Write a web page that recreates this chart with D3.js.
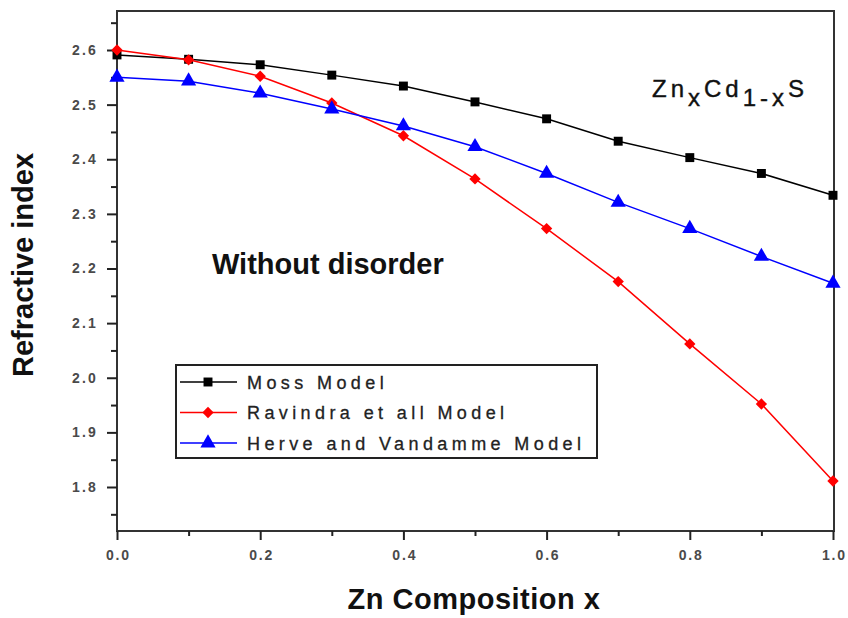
<!DOCTYPE html>
<html><head><meta charset="utf-8">
<script src="https://cdn.jsdelivr.net/npm/d3@7"></script>
<style>body{margin:0;background:#fff;}svg{display:block;}</style>
</head><body>
<svg id="chart" width="848" height="618"></svg>
<script>
const xValues = [0, 0.1, 0.2, 0.3, 0.4, 0.5, 0.6, 0.7, 0.8, 0.9, 1.0];
const mossValues = [2.591, 2.583, 2.573, 2.554, 2.534, 2.505, 2.474, 2.433, 2.403, 2.374, 2.334];
const ravindraValues = [2.600, 2.582, 2.552, 2.503, 2.443, 2.364, 2.273, 2.176, 2.062, 1.952, 1.811];
const herveValues = [2.550, 2.543, 2.521, 2.492, 2.461, 2.423, 2.374, 2.321, 2.273, 2.222, 2.173];
const seriesNames = ["Moss Model", "Ravindra et all Model", "Herve and Vandamme Model"];
const seriesColors = ["#000000", "#ff0000", "#0000ff"];
const seriesShapes = ["square", "diamond", "triangle"];
const xTickLabels = ["0.0", "0.2", "0.4", "0.6", "0.8", "1.0"];
const yTickLabels = ["1.8", "1.9", "2.0", "2.1", "2.2", "2.3", "2.4", "2.5", "2.6"];

const FONT = "Liberation Sans, Arial, sans-serif";
const svg = d3.select("#chart");
const L = 117, R = 834, T = 11, B = 531;
const x = d3.scaleLinear().domain([0, 1.0]).range([L, 833]);
const y = d3.scaleLinear().domain([1.8, 2.6]).range([487, 50]);

// frame
svg.append("rect").attr("x", L).attr("y", T).attr("width", R - L).attr("height", B - T)
  .attr("fill", "none").attr("stroke", "#333").attr("stroke-width", 2);

// x axis
const xMajor = xTickLabels.map(Number);
const xMinor = [0.1, 0.3, 0.5, 0.7, 0.9];
const xAxis = svg.append("g").attr("transform", `translate(0,${B})`)
  .call(d3.axisBottom(x).tickValues(xMajor).tickSize(9).tickFormat((d, i) => xTickLabels[i]).tickPadding(10));
xAxis.select(".domain").remove();
xAxis.selectAll("line").attr("stroke", "#222").attr("stroke-width", 2);
xAxis.selectAll("text").attr("font-family", FONT).attr("font-size", 14).attr("font-weight", "bold")
  .attr("fill", "#4a4a4a").attr("letter-spacing", 1.8).attr("dx", 0.9);
const xMin = svg.append("g").attr("transform", `translate(0,${B})`)
  .call(d3.axisBottom(x).tickValues(xMinor).tickSize(5).tickFormat(""));
xMin.select(".domain").remove();
xMin.selectAll("line").attr("stroke", "#222").attr("stroke-width", 2);

// y axis
const yMajor = yTickLabels.map(Number);
const yMinor = [1.75, 1.85, 1.95, 2.05, 2.15, 2.25, 2.35, 2.45, 2.55, 2.65];
const yAxis = svg.append("g").attr("transform", `translate(${L},0)`)
  .call(d3.axisLeft(y).tickValues(yMajor).tickSize(10).tickFormat((d, i) => yTickLabels[i]).tickPadding(9));
yAxis.select(".domain").remove();
yAxis.selectAll("line").attr("stroke", "#222").attr("stroke-width", 2);
yAxis.selectAll("text").attr("font-family", FONT).attr("font-size", 14).attr("font-weight", "bold")
  .attr("fill", "#4a4a4a").attr("letter-spacing", 2.2);
const yMin = svg.append("g").attr("transform", `translate(${L},0)`)
  .call(d3.axisLeft(y).tickValues(yMinor).tickSize(6).tickFormat(""));
yMin.select(".domain").remove();
yMin.selectAll("line").attr("stroke", "#222").attr("stroke-width", 2);

// series
const allSeries = [mossValues, ravindraValues, herveValues];
const symbolFor = {
  square: { d: d3.symbol().type(d3.symbolSquare).size(80)(), rot: 0 },
  diamond: { d: d3.symbol().type(d3.symbolSquare).size(64)(), rot: 45 },
  triangle: { d: d3.symbol().type(d3.symbolTriangle).size(100)(), rot: 0 }
};
const line = d3.line().x(d => x(d[0])).y(d => y(d[1]));
allSeries.forEach((vals, si) => {
  const pts = xValues.map((xv, i) => [xv, vals[i]]);
  const sym = symbolFor[seriesShapes[si]];
  svg.append("path").datum(pts).attr("d", line).attr("fill", "none")
    .attr("stroke", seriesColors[si]).attr("stroke-width", 1.5);
  svg.append("g").selectAll("path").data(pts).join("path")
    .attr("d", sym.d)
    .attr("transform", d => `translate(${x(d[0])},${y(d[1])}) rotate(${sym.rot})`)
    .attr("fill", seriesColors[si]);
});

// annotation texts
svg.append("text").attr("x", 212).attr("y", 274).text("Without disorder")
  .attr("font-family", FONT).attr("font-size", 29).attr("font-weight", "bold").attr("fill", "#111");

const formula = svg.append("text").attr("x", 652).attr("y", 97)
  .attr("font-family", FONT).attr("font-size", 24).attr("fill", "#111").attr("letter-spacing", 4)
  .attr("stroke", "#111").attr("stroke-width", 0.4);
formula.append("tspan").text("Zn");
formula.append("tspan").text("x").attr("dy", 9);
formula.append("tspan").text("Cd").attr("dy", -9);
formula.append("tspan").text("1-x").attr("dy", 9);
formula.append("tspan").text("S").attr("dy", -9);

// legend
const lg = svg.append("g");
lg.append("rect").attr("x", 176).attr("y", 365).attr("width", 421).attr("height", 93)
  .attr("fill", "#fff").attr("stroke", "#222").attr("stroke-width", 2);
seriesNames.forEach((name, i) => {
  const yy = 382 + i * 30.5;
  const sym = symbolFor[seriesShapes[i]];
  lg.append("line").attr("x1", 180).attr("x2", 237).attr("y1", yy).attr("y2", yy)
    .attr("stroke", seriesColors[i]).attr("stroke-width", 1.5);
  lg.append("path").attr("d", sym.d).attr("transform", `translate(208,${yy}) rotate(${sym.rot})`)
    .attr("fill", seriesColors[i]);
  lg.append("text").attr("x", 247).attr("y", yy + 6.5).text(name)
    .attr("font-family", FONT).attr("font-size", 18).attr("letter-spacing", 4.4).attr("fill", "#222")
    .attr("stroke", "#222").attr("stroke-width", 0.3);
});

// axis titles
svg.append("text").attr("x", 474).attr("y", 609).attr("text-anchor", "middle").text("Zn Composition x")
  .attr("font-family", FONT).attr("font-size", 29).attr("font-weight", "bold").attr("fill", "#111").attr("letter-spacing", 0.5);
svg.append("text").attr("transform", "translate(33,265) rotate(-90)").attr("text-anchor", "middle").text("Refractive index")
  .attr("font-family", FONT).attr("font-size", 29).attr("font-weight", "bold").attr("fill", "#111");
</script>
</body></html>
